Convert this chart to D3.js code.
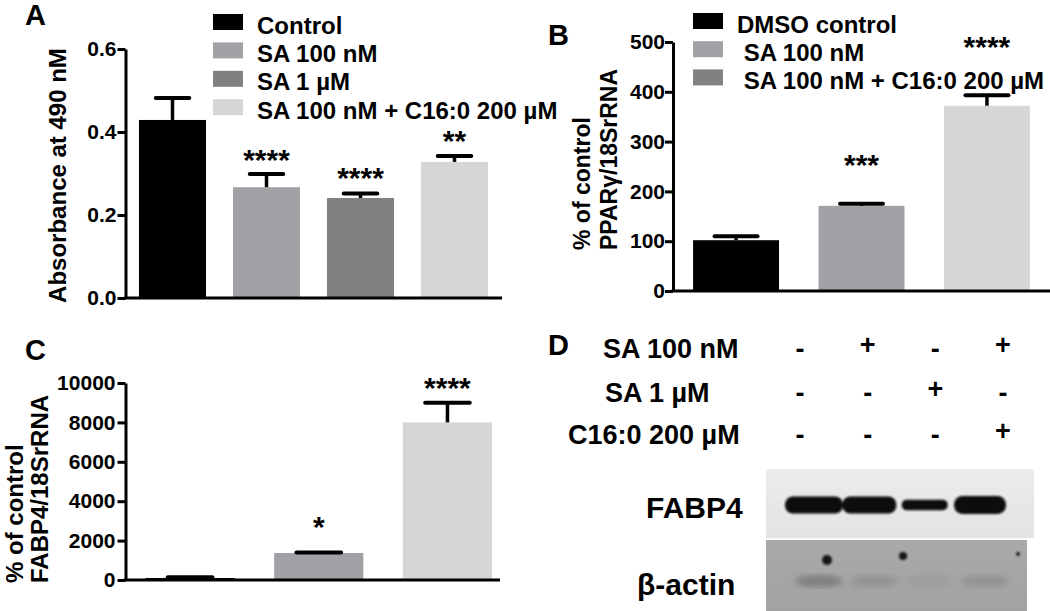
<!DOCTYPE html>
<html>
<head>
<meta charset="utf-8">
<script src="https://cdn.jsdelivr.net/npm/d3@7/dist/d3.min.js"></script>
<style>
  html, body { margin: 0; padding: 0; background: #fff; }
  svg { display: block; font-family: "Liberation Sans", Arial, Helvetica, sans-serif; font-weight: bold; }
  .tick text { font-weight: bold; fill: #000; }
</style>
</head>
<body>
<svg id="fig" width="1050" height="611"></svg>
<script>
// ---------- Panel A data ----------
const catsA = ["Control", "SA 100 nM", "SA 1 µM", "SA 100 nM + C16:0 200 µM"];
const valsA = [0.429, 0.267, 0.241, 0.328];
const errA = [0.053, 0.032, 0.011, 0.014];
const starsA = ["", "****", "****", "**"];
const ticksA = [0.0, 0.2, 0.4, 0.6];
const yLabelA = "Absorbance at 490 nM";

// ---------- Panel B data ----------
const catsB = ["DMSO control", "SA 100 nM", "SA 100 nM + C16:0 200 µM"];
const legendB = ["DMSO control", " SA 100 nM", " SA 100 nM + C16:0 200 µM"];
const valsB = [102, 171, 372];
const errB = [8, 4, 21];
const starsB = ["", "***", "****"];
const ticksB = [0, 100, 200, 300, 400, 500];
const yLabelB = ["% of control", "PPARγ/18SrRNA"];

// ---------- Panel C data ----------
const catsC = ["DMSO control", "SA 100 nM", "SA 100 nM + C16:0 200 µM"];
const valsC = [100, 1370, 8000];
const errC = [40, 20, 1000];
const starsC = ["", "*", "****"];
const ticksC = [0, 2000, 4000, 6000, 8000, 10000];
const yLabelC = ["% of control", "FABP4/18SrRNA"];

// ---------- Panel D data ----------
const blotRows = ["SA 100 nM", "SA 1 µM", "C16:0 200 µM"];
const blotSigns = [["-", "+", "-", "+"], ["-", "-", "+", "-"], ["-", "-", "-", "+"]];
const lanes = [1, 2, 3, 4];
const fabp4Band = [1.0, 1.0, 0.62, 1.05];   // relative band thickness
const fabp4Width = [58, 54, 46, 52];
const actinBand = [0.7, 0.35, 0.15, 0.35];  // relative smudge darkness
const blotLabels = ["FABP4", "β-actin"];

// ---------- styles ----------
const colA = ["#000000", "#a2a2a6", "#818181", "#d6d6d6"];
const colB = ["#000000", "#a2a2a6", "#d6d6d6"];
const colBLegend = ["#000000", "#a2a2a6", "#818181"];
const colC = ["#000000", "#a2a2a6", "#d6d6d6"];

const svg = d3.select("#fig");
svg.append("rect").attr("width", 1050).attr("height", 611).attr("fill", "#fff");

function barPanel(opt) {
  const g = svg.append("g");
  const x = d3.scaleBand().domain(opt.cats).range(opt.xr)
    .paddingInner(opt.pi).paddingOuter(opt.po);
  const y = d3.scaleLinear().domain(opt.yd).range(opt.yr);
  g.selectAll("rect.bar").data(opt.vals).enter().append("rect")
    .attr("class", "bar")
    .attr("x", (d, i) => x(opt.cats[i]))
    .attr("width", x.bandwidth())
    .attr("y", d => y(d))
    .attr("height", d => y(0) - y(d))
    .attr("fill", (d, i) => opt.colors[i]);
  opt.vals.forEach((v, i) => {
    const cx = x(opt.cats[i]) + x.bandwidth() / 2;
    const top = y(v + opt.err[i]);
    g.append("line").attr("x1", cx).attr("x2", cx).attr("y1", y(v)).attr("y2", top)
      .attr("stroke", "#000").attr("stroke-width", 3.5);
    g.append("line").attr("x1", cx - x.bandwidth() / 4).attr("x2", cx + x.bandwidth() / 4)
      .attr("y1", top).attr("y2", top)
      .attr("stroke", "#000").attr("stroke-width", 4).attr("stroke-linecap", "round");
    if (opt.stars[i]) {
      g.append("text").attr("x", cx).attr("y", opt.starY[i] + 15)
        .attr("text-anchor", "middle").attr("font-size", 30)
        .text(opt.stars[i]);
    }
  });
  const ax = g.append("g").attr("transform", `translate(${opt.xr[0]},0)`)
    .call(d3.axisLeft(y).tickValues(opt.ticks).tickFormat(opt.fmt)
      .tickSize(8).tickSizeOuter(0).tickPadding(opt.pad));
  ax.select(".domain").attr("stroke", "#000").attr("stroke-width", 3);
  ax.selectAll(".tick line").attr("stroke", "#000").attr("stroke-width", 3);
  ax.selectAll(".tick text").attr("font-size", opt.tickFs)
    .attr("font-family", "Liberation Sans, Arial, sans-serif");
  g.append("line").attr("x1", opt.xr[0] - 1.5).attr("x2", opt.xEnd)
    .attr("y1", y(0)).attr("y2", y(0)).attr("stroke", "#000").attr("stroke-width", 3);
  return { x, y, g };
}

// ---------- Panel A ----------
barPanel({
  cats: catsA, vals: valsA, err: errA, stars: starsA, colors: colA,
  xr: [125.5, 501.5], pi: 0.287, po: 0.1435, xEnd: 502,
  yd: [0, 0.6], yr: [298, 49], ticks: ticksA, fmt: d3.format(".1f"),
  pad: 1, tickFs: 21, starY: [0, 155, 173, 136]
});
svg.append("text").attr("transform", "translate(66,175.5) rotate(-90)")
  .attr("text-anchor", "middle").attr("font-size", 24).text(yLabelA);
const legA = svg.append("g");
catsA.forEach((c, i) => {
  const top = 14 + i * 28.4;
  legA.append("rect").attr("x", 213).attr("y", top).attr("width", 30).attr("height", 16).attr("fill", colA[i]);
  legA.append("text").attr("x", 257).attr("y", top + 19.5).attr("font-size", 24).text(c);
});
svg.append("text").attr("x", 25).attr("y", 25).attr("font-size", 29).text("A");

// ---------- Panel B ----------
barPanel({
  cats: catsB, vals: valsB, err: errB, stars: starsB, colors: colB,
  xr: [673, 1050], pi: 0.315, po: 0.16, xEnd: 1050,
  yd: [0, 500], yr: [291, 42], ticks: ticksB, fmt: d3.format("d"),
  pad: 0, tickFs: 21, starY: [0, 160, 42]
});
svg.append("text").attr("transform", "translate(590,250) rotate(-90)")
  .attr("font-size", 23).text(yLabelB[0]);
svg.append("text").attr("transform", "translate(617,250) rotate(-90)")
  .attr("font-size", 23).text(yLabelB[1]);
const legB = svg.append("g");
legendB.forEach((c, i) => {
  const top = 13 + i * 28.2;
  legB.append("rect").attr("x", 693).attr("y", top).attr("width", 30).attr("height", 16).attr("fill", colBLegend[i]);
  legB.append("text").attr("x", 737).attr("y", top + 20).attr("font-size", 24)
    .style("white-space", "pre").text(c);
});
svg.append("text").attr("x", 548).attr("y", 45).attr("font-size", 29).text("B");

// ---------- Panel C ----------
barPanel({
  cats: catsC, vals: valsC, err: errC, stars: starsC, colors: colC,
  xr: [125.5, 512], pi: 0.307, po: 0.155, xEnd: 500,
  yd: [0, 10000], yr: [580, 383], ticks: ticksC, fmt: d3.format("d"),
  pad: 2, tickFs: 21, starY: [0, 522, 383]
});
svg.append("text").attr("transform", "translate(23,583) rotate(-90)")
  .attr("font-size", 24).text(yLabelC[0]);
svg.append("text").attr("transform", "translate(48,583) rotate(-90)")
  .attr("font-size", 24).text(yLabelC[1]);
svg.append("text").attr("x", 25).attr("y", 360).attr("font-size", 29).text("C");

// ---------- Panel D ----------
svg.append("text").attr("x", 548).attr("y", 355).attr("font-size", 29).text("D");
const signX = d3.scalePoint().domain(lanes).range([800, 1003]);
const rowBase = [358, 402, 444];
const rowX = [603, 605, 568];
blotRows.forEach((r, i) => {
  svg.append("text").attr("x", rowX[i]).attr("y", rowBase[i]).attr("font-size", 27).text(r);
  blotSigns[i].forEach((s, j) => {
    svg.append("text").attr("x", signX(lanes[j])).attr("y", rowBase[i] - (s === "+" ? 4 : 0))
      .attr("text-anchor", "middle").attr("font-size", 27).text(s);
  });
});

const defs = svg.append("defs");
defs.append("filter").attr("id", "blur1").append("feGaussianBlur").attr("stdDeviation", 0.9);
defs.append("filter").attr("id", "blur3").append("feGaussianBlur").attr("stdDeviation", 3);
const gradF = defs.append("linearGradient").attr("id", "gF").attr("x1", 0).attr("y1", 0).attr("x2", 0).attr("y2", 1);
gradF.append("stop").attr("offset", 0).attr("stop-color", "#ececec");
gradF.append("stop").attr("offset", 1).attr("stop-color", "#e3e3e3");
const gradA = defs.append("linearGradient").attr("id", "gA").attr("x1", 0).attr("y1", 0).attr("x2", 0).attr("y2", 1);
gradA.append("stop").attr("offset", 0).attr("stop-color", "#a9a9a9");
gradA.append("stop").attr("offset", 1).attr("stop-color", "#a2a2a2");

svg.append("rect").attr("x", 766).attr("y", 469).attr("width", 268).attr("height", 69).attr("fill", "url(#gF)");
const bandX = d3.scalePoint().domain(lanes).range([814, 980]);
svg.append("g").attr("filter", "url(#blur1)").selectAll("rect").data(lanes).enter().append("rect")
  .attr("x", (d, i) => bandX(d) - fabp4Width[i] / 2)
  .attr("width", (d, i) => fabp4Width[i])
  .attr("y", (d, i) => 505 - 8.5 * fabp4Band[i])
  .attr("height", (d, i) => 17 * fabp4Band[i])
  .attr("rx", (d, i) => 8 * fabp4Band[i])
  .attr("fill", "#0a0a0a");

svg.append("rect").attr("x", 766).attr("y", 540).attr("width", 261).attr("height", 71).attr("fill", "url(#gA)");
svg.append("g").attr("filter", "url(#blur3)").selectAll("ellipse").data(lanes).enter().append("ellipse")
  .attr("cx", d => bandX(d) + 5)
  .attr("cy", 581)
  .attr("rx", 24).attr("ry", 6)
  .attr("fill", "#6e6e6e")
  .attr("opacity", (d, i) => actinBand[i]);
const dots = [[827, 560, 5], [903, 556, 4], [1018, 554, 2]];
svg.append("g").attr("filter", "url(#blur1)").selectAll("circle").data(dots).enter().append("circle")
  .attr("cx", d => d[0]).attr("cy", d => d[1]).attr("r", d => d[2]).attr("fill", "#151515");

svg.append("text").attr("x", 646).attr("y", 518).attr("font-size", 30).text(blotLabels[0]);
svg.append("text").attr("x", 637).attr("y", 595).attr("font-size", 30).text(blotLabels[1]);
</script>
</body>
</html>
